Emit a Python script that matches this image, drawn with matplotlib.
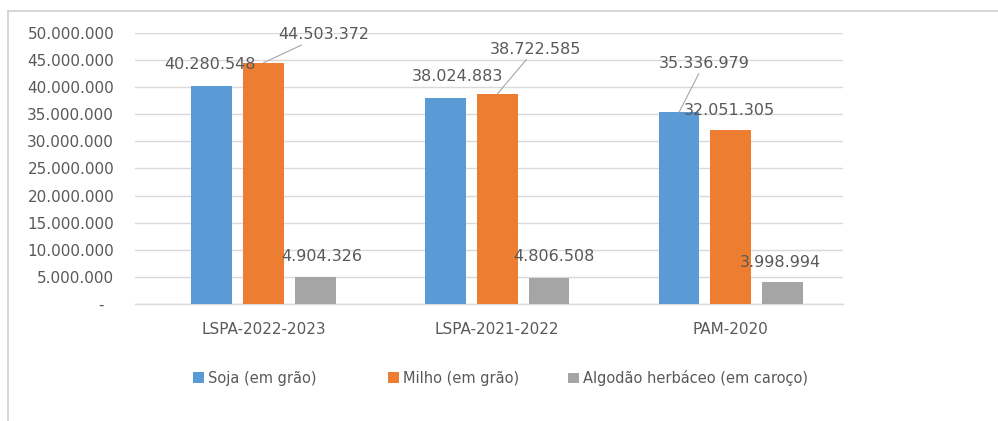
import matplotlib
matplotlib.use("Agg")
import matplotlib.pyplot as plt
from matplotlib.patches import Patch
from matplotlib.lines import Line2D
from matplotlib.ticker import FuncFormatter, MultipleLocator
import numpy as np

categories = ["LSPA-2022-2023", "LSPA-2021-2022", "PAM-2020"]
series_names = ["Soja (em grão)", "Milho (em grão)", "Algodão herbáceo (em caroço)"]
soja = [40280548, 38024883, 35336979]
milho = [44503372, 38722585, 32051305]
algodao = [4904326, 4806508, 3998994]
label_texts = [
    ["40.280.548", "38.024.883", "35.336.979"],
    ["44.503.372", "38.722.585", "32.051.305"],
    ["4.904.326", "4.806.508", "3.998.994"],
]

# style / layout
colors = ["#5B9BD5", "#ED7D31", "#A5A5A5"]
text_color = "#595959"
grid_color = "#D9D9D9"
# label offsets in pixels from bar-top centre, and whether a leader line is drawn
label_offsets = [
    [(-2, 21), (12, 21), (25, 49)],
    [(60, 28), (38, 45), (-1, 20)],
    [(6, 21), (5, 21), (-2, 20)],
]
leader = [
    [False, False, True],
    [True, True, False],
    [False, False, False],
]
legend_x_px = [193, 388, 568]

W, H = 998, 421
fig = plt.figure(figsize=(W / 100, H / 100), dpi=100)
fig.patch.set_facecolor("white")

# chart frame (top and left border)
fig.add_artist(Line2D([8 / W, 8 / W], [0, 1 - 11 / H], color="#D0D0D0", lw=1.2))
fig.add_artist(Line2D([8 / W, 1], [1 - 11 / H, 1 - 11 / H], color="#D0D0D0", lw=1.2))

ax = fig.add_axes([135 / W, 1 - 304 / H, (843 - 135) / W, (304 - 33) / H])
ax.set_facecolor("white")

values = [soja, milho, algodao]
x = np.arange(len(categories))
bw = 0.175
step = 0.222
for s, vals in enumerate(values):
    xs = x + (s - 1) * step
    ax.bar(xs, vals, width=bw, color=colors[s], zorder=3, label=series_names[s])
    for g in range(len(categories)):
        dx, dy = label_offsets[s][g]
        props = None
        if leader[s][g]:
            props = dict(arrowstyle="-", color="#A6A6A6", lw=0.8, shrinkA=0, shrinkB=0)
        ax.annotate(label_texts[s][g], xy=(xs[g], vals[g]), xytext=(dx, dy),
                    textcoords="offset pixels", ha="center", va="center",
                    fontsize=11.5, color=text_color, arrowprops=props,
                    annotation_clip=False, zorder=5)

ax.set_xlim(-0.55, 2.48)
ax.set_ylim(0, 50_000_000)
ax.yaxis.set_major_locator(MultipleLocator(5_000_000))


def fmt(v, pos):
    if abs(v) < 1:
        return "-  "
    return f"{int(round(v)):,}".replace(",", ".")


ax.yaxis.set_major_formatter(FuncFormatter(fmt))
ax.set_xticks(x)
ax.set_xticklabels(categories)
ax.tick_params(axis="y", length=0, pad=15, labelsize=11, labelcolor=text_color)
ax.tick_params(axis="x", length=0, pad=13, labelsize=11, labelcolor=text_color)
ax.grid(axis="y", color=grid_color, lw=1, zorder=0)
for sp in ["top", "right", "left"]:
    ax.spines[sp].set_visible(False)
ax.spines["bottom"].set_color(grid_color)
ax.spines["bottom"].set_linewidth(1)

for s in range(len(series_names)):
    fig.legend([Patch(facecolor=colors[s], edgecolor="none")], [series_names[s]],
               loc="center left", bbox_to_anchor=(legend_x_px[s] / W, 1 - 378 / H),
               frameon=False, fontsize=10.5, labelcolor=text_color,
               handlelength=0.75, handleheight=0.75, handletextpad=0.3,
               borderpad=0, borderaxespad=0)

fig.savefig("out.png", dpi=100, facecolor="white")
